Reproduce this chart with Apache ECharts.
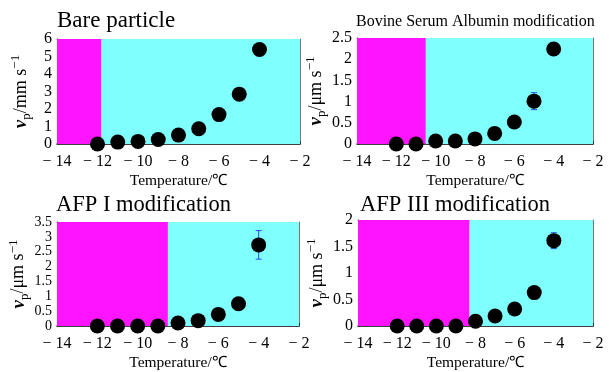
<!DOCTYPE html>
<html><head><meta charset="utf-8">
<script src="https://cdn.jsdelivr.net/npm/echarts@6/dist/echarts.min.js"></script>
<style>html,body{margin:0;padding:0;background:#fff}#c{width:609px;height:372px}</style>
</head><body><div id="c"></div>
<script>
const temps = [-12, -11, -10, -9, -8, -7, -6, -5, -4];
const titles = ['Bare particle', 'Bovine Serum Albumin modification', 'AFP I modification', 'AFP III modification'];
const bareV = [0, 0.11, 0.15, 0.26, 0.51, 0.87, 1.68, 2.85, 5.4];
const bareErr = [0, 0, 0, 0, 0, 0, 0, 0, 0];
const bsaV = [0, 0, 0.07, 0.07, 0.12, 0.25, 0.52, 1.01, 2.24];
const bsaErr = [0, 0, 0.03, 0.03, 0.02, 0.02, 0.03, 0.2, 0.04];
const afp1V = [0, 0, 0, 0, 0.1, 0.18, 0.39, 0.75, 2.73];
const afp1Err = [0, 0, 0, 0, 0.02, 0.02, 0.03, 0.05, 0.48];
const afp3V = [0, 0, 0, 0, 0.09, 0.19, 0.32, 0.63, 1.61];
const afp3Err = [0, 0, 0, 0, 0.02, 0.02, 0.03, 0.04, 0.15];
const boundaries = [-11.8, -10.5, -8.5, -8.3];
const yMax = [6, 2.5, 3.5, 2];
const yStep = [1, 0.5, 0.5, 0.5];
const yLabelSize = [16, 16, 14, 16];
const yUnits = ['mm', 'μm', 'μm', 'μm'];
const xMin = -14, xMax = -2, xStep = 2;

const values = [bareV, bsaV, afp1V, afp3V];
const errs = [bareErr, bsaErr, afp1Err, afp3Err];

const FONT = "'Liberation Serif', 'Times New Roman', serif";
const grids = [
  {left: 57, top: 39, width: 243, height: 105},
  {left: 357, top: 38, width: 236, height: 106},
  {left: 57, top: 222, width: 242, height: 105},
  {left: 358, top: 220, width: 235, height: 107}
];
const titlePos = [
  {left: 57, top: 9, size: 23},
  {left: 356, top: 14, size: 16},
  {left: 56, top: 194, size: 22.5},
  {left: 360, top: 194, size: 22.5}
];

const fmtX = v => v < 0 ? '\u2212 ' + (-v) : String(v);

const option = {
  animation: false,
  textStyle: {fontFamily: FONT},
  title: titles.map((t, i) => ({
    text: t, left: titlePos[i].left, top: titlePos[i].top, padding: 0,
    textStyle: {fontFamily: FONT, fontWeight: 'normal', fontSize: titlePos[i].size, color: '#000'}
  })),
  grid: grids.map(g => Object.assign({containLabel: false}, g)),
  xAxis: [],
  yAxis: [],
  series: []
};

for (let i = 0; i < 4; i++) {
  option.xAxis.push({
    type: 'value', gridIndex: i, min: xMin, max: xMax, interval: xStep, position: 'bottom',
    axisLine: {show: true, onZero: false, lineStyle: {color: '#000', width: 1.5}},
    axisTick: {show: true, inside: true, length: 3, lineStyle: {color: '#333'}},
    axisLabel: {formatter: fmtX, fontFamily: FONT, fontSize: 16, color: '#000', margin: 10,
      hideOverlap: false, showMinLabel: true, showMaxLabel: true},
    splitLine: {show: false},
    name: 'Temperature/℃', nameLocation: 'middle', nameGap: 29,
    nameTextStyle: {fontFamily: FONT, fontSize: 15.5, color: '#000'}
  });
  option.xAxis.push({
    type: 'value', gridIndex: i, min: xMin, max: xMax, interval: xStep, position: 'top',
    axisLine: {show: true, onZero: false, lineStyle: {color: '#777', width: 1}},
    axisTick: {show: false}, axisLabel: {show: false}, splitLine: {show: false}
  });
  option.yAxis.push({
    type: 'value', gridIndex: i, min: 0, max: yMax[i], interval: yStep[i], position: 'left',
    axisLine: {show: true, onZero: false, lineStyle: {color: '#000', width: 1}},
    axisTick: {show: true, inside: true, length: 3, lineStyle: {color: '#333'}},
    axisLabel: {fontFamily: FONT, fontSize: yLabelSize[i], color: '#000', margin: 5,
      hideOverlap: false, showMinLabel: true, showMaxLabel: true},
    splitLine: {show: false},
    name: '{v|v}{sub|p}{n|/' + yUnits[i] + ' s}{sup|\u22121}',
    nameLocation: 'middle', nameGap: 24, nameRotate: 90,
    nameTextStyle: {
      fontFamily: FONT, fontSize: 17, color: '#000',
      rich: {
        v: {fontFamily: FONT, fontSize: 19, fontStyle: 'italic', fontWeight: 'bold', verticalAlign: 'middle', lineHeight: 24},
        sub: {fontFamily: FONT, fontSize: 13, verticalAlign: 'bottom', lineHeight: 24},
        n: {fontFamily: FONT, fontSize: 18, verticalAlign: 'middle', lineHeight: 24},
        sup: {fontFamily: FONT, fontSize: 13, verticalAlign: 'top', lineHeight: 24}
      }
    }
  });
  option.yAxis.push({
    type: 'value', gridIndex: i, min: 0, max: yMax[i], interval: yStep[i], position: 'right',
    axisLine: {show: true, onZero: false, lineStyle: {color: '#777', width: 1}},
    axisTick: {show: false}, axisLabel: {show: false}, splitLine: {show: false}
  });

  const pts = temps.map((t, k) => [t, values[i][k]]);
  const eb = temps.map((t, k) => [t, values[i][k] - errs[i][k], values[i][k] + errs[i][k]]).filter((d, k) => errs[i][k] > 0);

  option.series.push({
    type: 'custom', xAxisIndex: 2 * i, yAxisIndex: 2 * i, z: 3,
    data: eb,
    renderItem: function (params, api) {
      const x = api.value(0);
      const lo = api.coord([x, api.value(1)]);
      const hi = api.coord([x, api.value(2)]);
      const st = {stroke: '#2a4de0', lineWidth: 1};
      return {type: 'group', children: [
        {type: 'line', shape: {x1: lo[0], y1: lo[1], x2: hi[0], y2: hi[1]}, style: st},
        {type: 'line', shape: {x1: lo[0] - 3, y1: lo[1], x2: lo[0] + 3, y2: lo[1]}, style: st},
        {type: 'line', shape: {x1: hi[0] - 3, y1: hi[1], x2: hi[0] + 3, y2: hi[1]}, style: st}
      ]};
    }
  });
  option.series.push({
    type: 'scatter', xAxisIndex: 2 * i, yAxisIndex: 2 * i, z: 4, clip: false,
    symbolSize: 15, itemStyle: {color: '#000', opacity: 1},
    data: pts,
    markArea: {
      silent: true,
      data: [
        [{xAxis: xMin, itemStyle: {color: '#ff14ff', opacity: 1}}, {xAxis: boundaries[i]}],
        [{xAxis: boundaries[i], itemStyle: {color: '#80ffff', opacity: 1}}, {xAxis: xMax}]
      ]
    }
  });
}

const chart = echarts.init(document.getElementById('c'), null, {renderer: 'canvas'});
chart.setOption(option);
</script>
</body></html>
